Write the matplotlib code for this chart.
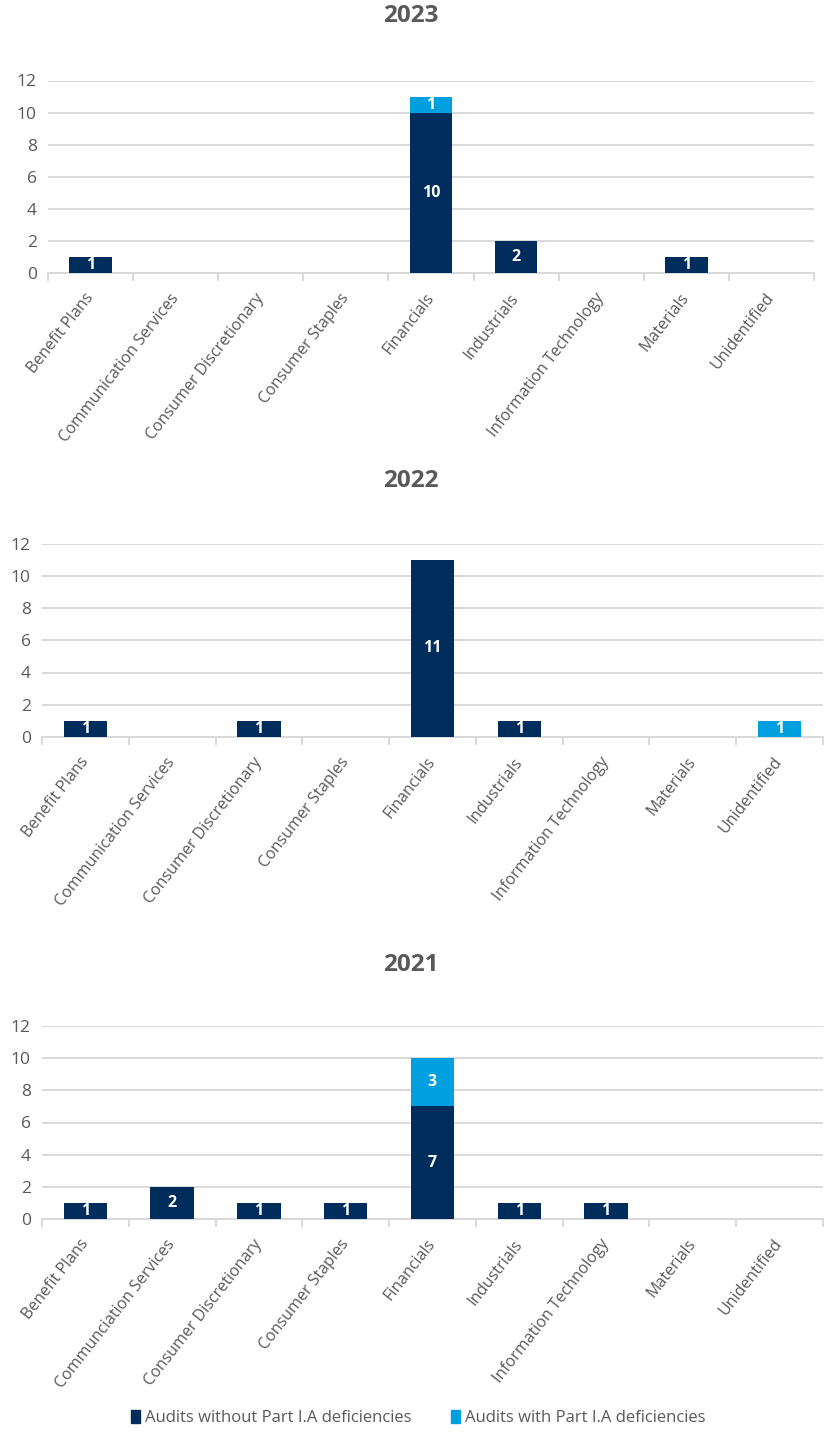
import numpy as np
import matplotlib.pyplot as plt
import matplotlib.transforms as mtransforms
from matplotlib.patches import Patch

plt.rcParams['font.family'] = ['Open Sans', 'DejaVu Sans']

categories = ['Benefit Plans', 'Communication Services', 'Consumer Discretionary',
              'Consumer Staples', 'Financials', 'Industrials',
              'Information Technology', 'Materials', 'Unidentified']
# the 2021 chart in the source spells it this way
categories_2021 = ['Benefit Plans', 'Communciation Services', 'Consumer Discretionary',
                   'Consumer Staples', 'Financials', 'Industrials',
                   'Information Technology', 'Materials', 'Unidentified']

without_2023 = [1, 0, 0, 0, 10, 2, 0, 1, 0]
with_2023 = [0, 0, 0, 0, 1, 0, 0, 0, 0]
without_2022 = [1, 0, 1, 0, 11, 1, 0, 0, 0]
with_2022 = [0, 0, 0, 0, 0, 0, 0, 0, 1]
without_2021 = [1, 2, 1, 1, 7, 1, 1, 0, 0]
with_2021 = [0, 0, 0, 0, 3, 0, 0, 0, 0]

NAVY = '#002D5C'
LIGHT = '#009FDF'
GRID = '#D9D9D9'
TEXT = '#595959'

W, H = 825, 1432
fig = plt.figure(figsize=(W / 100, H / 100), dpi=100)


def px_rect(left, right, top, bottom):
    # pixel box -> figure fraction
    return [left / W, 1 - bottom / H, (right - left) / W, (bottom - top) / H]


panels = [
    ('2023', categories, without_2023, with_2023, px_rect(48, 814, 80.5, 273), 16.5),
    ('2022', categories, without_2022, with_2022, px_rect(42, 823, 543.5, 737), 481),
    ('2021', categories_2021, without_2021, with_2021, px_rect(42, 823, 1026, 1219), 965),
]


def draw_panel(title, cats, base, extra, rect, title_px):
    ax = fig.add_axes(rect)
    x = np.arange(len(cats))
    base = np.array(base)
    extra = np.array(extra)
    ax.bar(x, base, width=0.5, color=NAVY, zorder=3)
    ax.bar(x, extra, width=0.5, bottom=base, color=LIGHT, zorder=3)

    for i in range(len(cats)):
        if base[i] > 0:
            ax.text(x[i], base[i] / 2, str(base[i]), ha='center', va='center',
                    color='white', fontsize=11.5, fontweight='bold', zorder=4)
        if extra[i] > 0:
            ax.text(x[i], base[i] + extra[i] / 2, str(extra[i]), ha='center', va='center',
                    color='white', fontsize=11.5, fontweight='bold', zorder=4)

    ax.set_xlim(-0.5, len(cats) - 0.5)
    ax.set_ylim(0, 12)
    ax.set_yticks(range(0, 13, 2))
    ax.yaxis.grid(True, color=GRID, linewidth=1.4)
    ax.set_axisbelow(True)
    for s in ['top', 'right', 'left']:
        ax.spines[s].set_visible(False)
    ax.spines['bottom'].set_color(GRID)
    ax.spines['bottom'].set_linewidth(1.4)

    ax.set_xticks(x)
    ax.set_xticklabels(cats, rotation=52, ha='right', va='center',
                       rotation_mode='anchor', fontsize=11.5, color=TEXT)
    shift = mtransforms.ScaledTranslation(9 / 100, 0, fig.dpi_scale_trans)
    for lab in ax.get_xticklabels():
        lab.set_transform(lab.get_transform() + shift)
    ax.set_xticks(np.arange(-0.5, len(cats), 1), minor=True)
    ax.tick_params(axis='x', which='major', length=0, pad=16)
    ax.tick_params(axis='x', which='minor', length=6, color=GRID, width=1.4)
    ax.tick_params(axis='y', length=0, labelsize=12.5, labelcolor=TEXT, pad=8)

    fig.text(0.498, 1 - title_px / H, title, ha='center', va='center', fontsize=17.5,
             fontweight='bold', color=TEXT)


for p in panels:
    draw_panel(*p)

handles = [Patch(color=NAVY, label='Audits without Part I.A deficiencies'),
           Patch(color=LIGHT, label='Audits with Part I.A deficiencies')]
fig.legend(handles=handles, loc='center', bbox_to_anchor=(0.507, 1 - 1418 / H), ncol=2,
           frameon=False, fontsize=12, labelcolor=TEXT, handlelength=0.5,
           handleheight=0.8, handletextpad=0.3, columnspacing=2.4)

fig.savefig('out.png', dpi=100, facecolor='white')
